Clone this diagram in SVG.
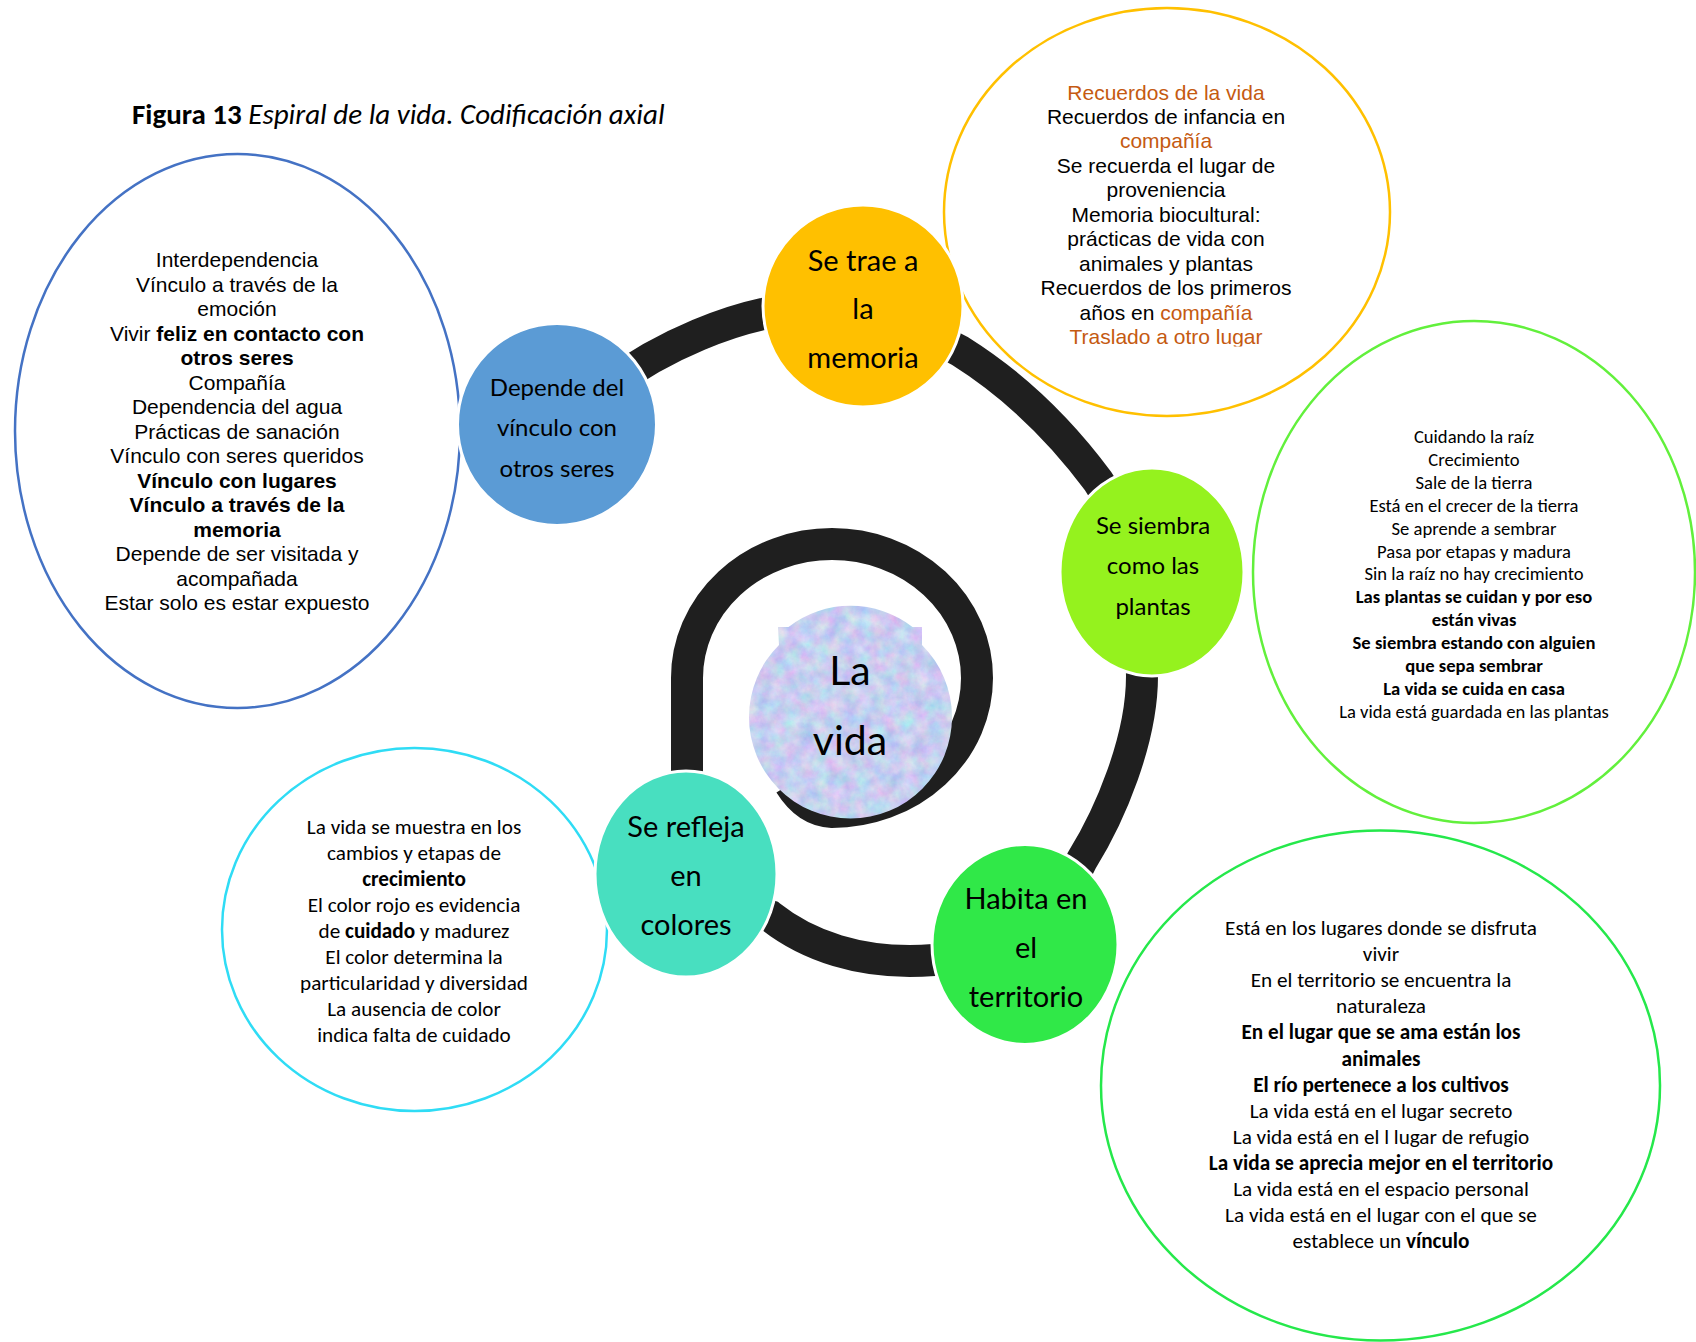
<svg xmlns="http://www.w3.org/2000/svg" width="1696" height="1342" viewBox="0 0 1696 1342">
  <defs>
    <style>
      .arial{font-family:"Liberation Sans",Arial,sans-serif;font-size:21px;fill:#000;text-anchor:middle}
      .cal{font-family:Carlito,Calibri,Lato,sans-serif;fill:#000;text-anchor:middle}
      .lbl{font-family:Lato,"Open Sans",sans-serif;fill:#000;text-anchor:middle}
      .b{font-weight:bold}
      .or{fill:#c55a11}
      .outline{fill:none;stroke-width:2.5}
      .node{stroke:#fff;stroke-width:3}
      .spiral{fill:none;stroke:#1f1f1f;stroke-width:32}
    </style>
    <!-- soft mottled pastel fill for the central disc -->
    <filter id="pastel" x="0" y="0" width="1" height="1" color-interpolation-filters="sRGB">
      <feTurbulence type="fractalNoise" baseFrequency="0.07" numOctaves="5" seed="7"/>
      <feColorMatrix type="matrix" values="0.34 0 0 0 0.61  0 0.28 0 0 0.67  0 0 0.1 0 0.89  0 0 0 0 1"/>
      <feComposite in2="SourceGraphic" operator="in"/>
    </filter>
    <clipPath id="memClip">
      <rect x="940" y="0" width="460" height="346.5"/>
    </clipPath>
  </defs>

  <rect width="1696" height="1342" fill="#fff"/>

  <!-- caption -->
  <text x="132" y="124" font-family="Carlito,Calibri,Lato,sans-serif" font-size="29" fill="#000"><tspan font-weight="bold">Figura 13</tspan><tspan font-style="italic"> Espiral de la vida. Codificación axial</tspan></text>

  <!-- the spiral band -->
  <g id="connectors">
    <path class="spiral" d="M 790 784 C 800 800 812 811 832 812 A 145 134 0 0 0 977 678 A 145 134 0 0 0 832 544 A 145 134 0 0 0 687 678 L 687 800 C 687 860 725 900 770 916 C 805 944 860 966 934 960 C 990 955 1055 920 1082 860 C 1110 815 1142 740 1142 676 C 1142 600 1128 525 1098 481 C 1075 450 1030 395 960 351 C 900 318 820 304 763 314 C 735 320 670 340 610 385"/>
  </g>

  <!-- detail bubbles -->
  <g id="detail-vinculo">
    <ellipse class="outline" cx="237.5" cy="431" rx="222.5" ry="277" stroke="#4472c4"/>
    <g class="arial">
      <text x="237" y="267">Interdependencia</text>
      <text x="237" y="291.5">Vínculo a través de la</text>
      <text x="237" y="316">emoción</text>
      <text x="237" y="340.5">Vivir <tspan class="b">feliz en contacto con</tspan></text>
      <text x="237" y="365" class="b">otros seres</text>
      <text x="237" y="389.5">Compañía</text>
      <text x="237" y="414">Dependencia del agua</text>
      <text x="237" y="438.5">Prácticas de sanación</text>
      <text x="237" y="463">Vínculo con seres queridos</text>
      <text x="237" y="487.5" class="b">Vínculo con lugares</text>
      <text x="237" y="512" class="b">Vínculo a través de la</text>
      <text x="237" y="536.5" class="b">memoria</text>
      <text x="237" y="561">Depende de ser visitada y</text>
      <text x="237" y="585.5">acompañada</text>
      <text x="237" y="610">Estar solo es estar expuesto</text>
    </g>
  </g>

  <g id="detail-memoria">
    <ellipse class="outline" cx="1167" cy="212" rx="223" ry="204" stroke="#ffc000"/>
    <g class="arial" clip-path="url(#memClip)">
      <text x="1166" y="99.5" class="or">Recuerdos de la vida</text>
      <text x="1166" y="124">Recuerdos de infancia en</text>
      <text x="1166" y="148.4" class="or">compañía</text>
      <text x="1166" y="172.9">Se recuerda el lugar de</text>
      <text x="1166" y="197.4">proveniencia</text>
      <text x="1166" y="221.9">Memoria biocultural:</text>
      <text x="1166" y="246.3">prácticas de vida con</text>
      <text x="1166" y="270.8">animales y plantas</text>
      <text x="1166" y="295.3">Recuerdos de los primeros</text>
      <text x="1166" y="319.7">años en <tspan class="or">compañía</tspan></text>
      <text x="1166" y="344.2" class="or">Traslado a otro lugar</text>
    </g>
  </g>

  <g id="detail-plantas">
    <ellipse class="outline" cx="1474" cy="572" rx="221" ry="251" stroke="#62f03c"/>
    <g class="cal" font-size="18.6">
      <text x="1474" y="443">Cuidando la raíz</text>
      <text x="1474" y="465.9">Crecimiento</text>
      <text x="1474" y="488.8">Sale de la tierra</text>
      <text x="1474" y="511.7">Está en el crecer de la tierra</text>
      <text x="1474" y="534.6">Se aprende a sembrar</text>
      <text x="1474" y="557.5">Pasa por etapas y madura</text>
      <text x="1474" y="580.4">Sin la raíz no hay crecimiento</text>
      <text x="1474" y="603.3" class="b">Las plantas se cuidan y por eso</text>
      <text x="1474" y="626.2" class="b">están vivas</text>
      <text x="1474" y="649.1" class="b">Se siembra estando con alguien</text>
      <text x="1474" y="672" class="b">que sepa sembrar</text>
      <text x="1474" y="694.9" class="b">La vida se cuida en casa</text>
      <text x="1474" y="717.8">La vida está guardada en las plantas</text>
    </g>
  </g>

  <g id="detail-colores">
    <ellipse class="outline" cx="414.5" cy="929.5" rx="192.5" ry="181.5" stroke="#2fdcf5"/>
    <g class="cal" font-size="21.2">
      <text x="414" y="834">La vida se muestra en los</text>
      <text x="414" y="860">cambios y etapas de</text>
      <text x="414" y="886" class="b">crecimiento</text>
      <text x="414" y="912">El color rojo es evidencia</text>
      <text x="414" y="938">de <tspan class="b">cuidado</tspan> y madurez</text>
      <text x="414" y="964">El color determina la</text>
      <text x="414" y="990">particularidad y diversidad</text>
      <text x="414" y="1016">La ausencia de color</text>
      <text x="414" y="1042">indica falta de cuidado</text>
    </g>
  </g>

  <g id="detail-territorio">
    <ellipse class="outline" cx="1380.5" cy="1085.5" rx="279.5" ry="255" stroke="#25e84b"/>
    <g class="cal" font-size="21.2">
      <text x="1381" y="935">Está en los lugares donde se disfruta</text>
      <text x="1381" y="961.1">vivir</text>
      <text x="1381" y="987.2">En el territorio se encuentra la</text>
      <text x="1381" y="1013.3">naturaleza</text>
      <text x="1381" y="1039.4" class="b">En el lugar que se ama están los</text>
      <text x="1381" y="1065.5" class="b">animales</text>
      <text x="1381" y="1091.6" class="b">El río pertenece a los cultivos</text>
      <text x="1381" y="1117.7">La vida está en el lugar secreto</text>
      <text x="1381" y="1143.8">La vida está en el l lugar de refugio</text>
      <text x="1381" y="1169.9" class="b">La vida se aprecia mejor en el territorio</text>
      <text x="1381" y="1196">La vida está en el espacio personal</text>
      <text x="1381" y="1222.1">La vida está en el lugar con el que se</text>
      <text x="1381" y="1248.2">establece un <tspan class="b">vínculo</tspan></text>
    </g>
  </g>

  <!-- spiral stations -->
  <g id="node-vinculo">
    <ellipse class="node" cx="557" cy="424.5" rx="99.5" ry="101" fill="#5b9bd5"/>
    <g class="lbl" font-size="24">
      <text x="557" y="395.5">Depende del</text>
      <text x="557" y="436.3">vínculo con</text>
      <text x="557" y="477">otros seres</text>
    </g>
  </g>

  <g id="node-memoria">
    <ellipse class="node" cx="863" cy="306" rx="100" ry="101" fill="#ffc000"/>
    <g class="lbl" font-size="29">
      <text x="863" y="270.5">Se trae a</text>
      <text x="863" y="319">la</text>
      <text x="863" y="367.5">memoria</text>
    </g>
  </g>

  <g id="node-plantas">
    <ellipse class="node" cx="1152" cy="572" rx="92" ry="104" fill="#95f21e"/>
    <g class="lbl" font-size="24">
      <text x="1153" y="534.4">Se siembra</text>
      <text x="1153" y="574">como las</text>
      <text x="1153" y="614.5">plantas</text>
    </g>
  </g>

  <g id="node-territorio">
    <ellipse class="node" cx="1025" cy="944.5" rx="93" ry="100" fill="#30e848"/>
    <g class="lbl" font-size="29">
      <text x="1026" y="909">Habita en</text>
      <text x="1026" y="958">el</text>
      <text x="1026" y="1006.7">territorio</text>
    </g>
  </g>

  <g id="node-colores">
    <ellipse class="node" cx="686" cy="874" rx="91" ry="103" fill="#48dfc0"/>
    <g class="lbl" font-size="29">
      <text x="686" y="837">Se refleja</text>
      <text x="686" y="886">en</text>
      <text x="686" y="935">colores</text>
    </g>
  </g>

  <g id="node-vida">
    <path d="M 778 627 L 788.5 627 A 101.5 101.5 0 0 1 912.5 627 L 922 627 L 922 645 A 101.5 101.5 0 1 1 779 645 Z" fill="#cdd6f2" filter="url(#pastel)"/>
    <g class="lbl" font-size="41">
      <text x="850" y="685">La</text>
      <text x="850" y="755">vida</text>
    </g>
  </g>
</svg>
